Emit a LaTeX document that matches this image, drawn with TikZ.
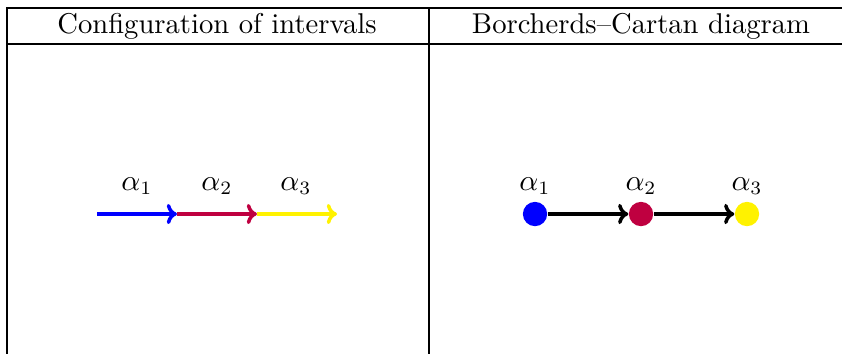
\documentclass[tikz,border=0pt]{standalone}
\usetikzlibrary{arrows.meta}
\begin{document}
\begin{tikzpicture}[x=0.3703pt,y=-0.3703pt,
  font=\fontsize{10.6}{13}\selectfont,
  rule/.style={line width=0.8pt, line cap=rect},
  seg/.style={line width=1.3pt, -{To[length=3.8pt,width=7.5pt]}},
  dotnode/.style={circle, inner sep=0pt, minimum size=9pt},
  lab/.style={inner sep=0pt}]
\useasboundingbox (0,0) rectangle (845,353);
% table rules
\coordinate (tl) at (7,8);
\coordinate (tr) at (841,8);
\coordinate (hl) at (7,44);
\coordinate (hr) at (841,44);
\coordinate (bl) at (7,353);
\coordinate (mt) at (429,8);
\coordinate (mb) at (429,353);
\draw[rule] (tl) -- (tr);
\draw[rule] (hl) -- (hr);
\draw[rule] (tl) -- (bl);
\draw[rule] (mt) -- (mb);
% headers
\node[lab] (h1) at (217,26) {Configuration of intervals};
\node[lab] (h2) at (641,26) {Borcherds--Cartan diagram};
% intervals
\coordinate (p0) at (97,214);
\coordinate (p1) at (177,214);
\coordinate (p2) at (257,214);
\coordinate (p3) at (337,214);
\draw[seg, blue] (p0) -- (p1);
\draw[seg, purple] (p1) -- (p2);
\draw[seg, yellow] (p2) -- (p3);
\node[lab] (l1) at (137,186) {$\alpha_1$};
\node[lab] (l2) at (217,186) {$\alpha_2$};
\node[lab] (l3) at (296,186) {$\alpha_3$};
% diagram
\node[dotnode, fill=blue] (v1) at (535,214) {};
\node[dotnode, fill=purple] (v2) at (641,214) {};
\node[dotnode, fill=yellow] (v3) at (747,214) {};
\draw[seg, black] (v1) -- (v2);
\draw[seg, black] (v2) -- (v3);
\node[lab] (m1) at (535,186) {$\alpha_1$};
\node[lab] (m2) at (641,186) {$\alpha_2$};
\node[lab] (m3) at (747,186) {$\alpha_3$};
\end{tikzpicture}
\end{document}
